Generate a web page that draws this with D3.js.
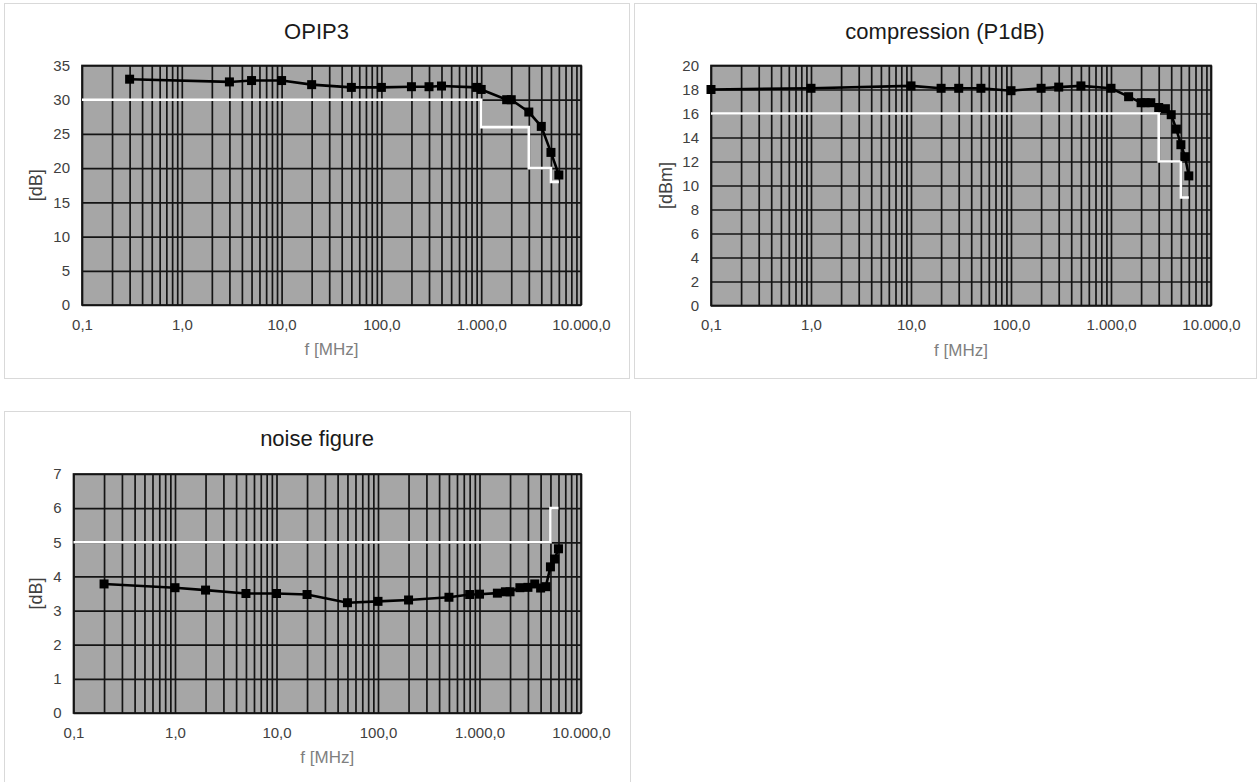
<!DOCTYPE html>
<html>
<head>
<meta charset="utf-8">
<script src="https://cdnjs.cloudflare.com/ajax/libs/d3/7.8.5/d3.min.js"></script>
<style>
  body { margin: 0; background: #fff; }
  svg { display: block; font-family: "Liberation Sans", Arial, sans-serif; }
</style>
</head>
<body>
<div id="chart"></div>
<script>

var opipFreq = [0.3, 3, 5, 10, 20, 50, 100, 200, 300, 400, 900, 1000, 1800, 2000, 3000, 4000, 5000, 6000];
var opipVal  = [33.0, 32.6, 32.8, 32.8, 32.2, 31.8, 31.8, 31.9, 31.9, 32.0, 31.8, 31.5, 30.0, 30.0, 28.2, 26.1, 22.3, 19.0];
var opipSpecFreq = [0.1, 1000, 1000, 3000, 3000, 5000, 5000, 6000];
var opipSpecVal  = [30, 30, 26, 26, 20, 20, 18, 18];

var compFreq = [0.1, 1, 10, 20, 30, 50, 100, 200, 300, 500, 1000, 1500, 2000, 2200, 2500, 3000, 3500, 4000, 4500, 5000, 5500, 6000];
var compVal  = [18.0, 18.1, 18.3, 18.1, 18.1, 18.1, 17.9, 18.1, 18.2, 18.3, 18.1, 17.4, 16.9, 16.9, 16.9, 16.5, 16.4, 15.9, 14.7, 13.4, 12.4, 10.8];
var compSpecFreq = [0.1, 3000, 3000, 5000, 5000, 6000];
var compSpecVal  = [16, 16, 12, 12, 9, 9];

var nfFreq = [0.2, 1, 2, 5, 10, 20, 50, 100, 200, 500, 800, 1000, 1500, 1800, 2000, 2500, 3000, 3500, 4000, 4500, 5000, 5500, 6000];
var nfVal  = [3.78, 3.67, 3.6, 3.5, 3.5, 3.47, 3.23, 3.27, 3.31, 3.39, 3.47, 3.48, 3.51, 3.55, 3.55, 3.67, 3.68, 3.78, 3.66, 3.70, 4.28, 4.51, 4.81];
var nfSpecFreq = [0.1, 5000, 5000, 6000];
var nfSpecVal  = [5, 5, 6, 6];

var xTickLabels = [0.1, 1, 10, 100, 1000, 10000];

var svgWidth = 1258;
var svgHeight = 782;

var svg = d3.select("#chart")
  .append("svg")
  .attr("width", svgWidth)
  .attr("height", svgHeight);

var de = d3.formatLocale({decimal: ",", thousands: ".", grouping: [3], currency: ["", "€"]});
var fmtX = de.format(",.1f");
var gridColor = "#141414";

function drawChart(c) {
  var g = svg.append("g");

  // panel frame
  g.append("rect")
    .attr("x", c.panel[0] + 0.5).attr("y", c.panel[1] + 0.5)
    .attr("width", c.panel[2]).attr("height", c.panel[3])
    .attr("fill", "#fff").attr("stroke", "#d9d9d9");

  var x = d3.scaleLog().domain([0.1, 10000]).range([c.left, c.right]);
  var y = d3.scaleLinear().domain([0, c.yMax]).range([c.bottom, c.top]);
  var w = c.right - c.left, h = c.bottom - c.top;

  g.append("rect")
    .attr("x", c.left).attr("y", c.top)
    .attr("width", w).attr("height", h)
    .attr("fill", "#a6a6a6");

  // vertical grid, every 1..9 of each decade
  g.append("g")
    .attr("transform", `translate(0, ${c.bottom})`)
    .call(d3.axisBottom(x).tickSize(-h).tickFormat(""))
    .call(a => a.select(".domain").remove())
    .selectAll("line").attr("stroke", gridColor).attr("stroke-width", 1.7);

  // horizontal grid
  var yTicks = d3.range(0, c.yMax + c.yStep / 2, c.yStep);
  g.append("g")
    .attr("transform", `translate(${c.left}, 0)`)
    .call(d3.axisLeft(y).tickValues(yTicks).tickFormat(d3.format("d")).tickSize(-w).tickPadding(12))
    .call(a => a.select(".domain").remove())
    .call(a => a.selectAll("line").attr("stroke", gridColor).attr("stroke-width", 1.7))
    .call(a => a.selectAll("text").attr("font-size", "15px").attr("fill", "#404040")
      .attr("font-family", "'Liberation Sans', Arial, sans-serif"));

  // x labels
  g.append("g")
    .attr("transform", `translate(0, ${c.bottom})`)
    .call(d3.axisBottom(x).tickValues(xTickLabels).tickSize(0).tickPadding(14).tickFormat(fmtX))
    .call(a => a.select(".domain").remove())
    .call(a => a.selectAll("text").attr("font-size", "15px").attr("fill", "#404040")
      .attr("font-family", "'Liberation Sans', Arial, sans-serif"));

  g.append("rect")
    .attr("x", c.left).attr("y", c.top)
    .attr("width", w).attr("height", h)
    .attr("fill", "none").attr("stroke", gridColor).attr("stroke-width", 1.7);

  var line = d3.line().x(d => x(d[0])).y(d => y(d[1]));

  // spec limit (white)
  g.append("path")
    .datum(d3.zip(c.specF, c.specV))
    .attr("d", line)
    .attr("fill", "none").attr("stroke", "#fff").attr("stroke-width", 2.6);

  var pts = d3.zip(c.freq, c.val);
  g.append("path")
    .datum(pts)
    .attr("d", line)
    .attr("fill", "none").attr("stroke", "#000").attr("stroke-width", 2.6);

  g.append("g").selectAll("rect")
    .data(pts)
    .enter()
    .append("rect")
    .attr("x", d => x(d[0]) - 4.5)
    .attr("y", d => y(d[1]) - 4.5)
    .attr("width", 9).attr("height", 9)
    .attr("fill", "#000");

  // titles
  g.append("text")
    .attr("x", c.panel[0] + c.panel[2] / 2).attr("y", c.titleY)
    .attr("text-anchor", "middle").attr("font-size", "22px").attr("fill", "#1a1a1a")
    .text(c.title);

  g.append("text")
    .attr("x", (c.left + c.right) / 2).attr("y", c.bottom + 50)
    .attr("text-anchor", "middle").attr("font-size", "17px").attr("fill", "#7f7f7f")
    .text("f [MHz]");

  g.append("text")
    .attr("transform", `translate(${c.yLabelX}, ${(c.top + c.bottom) / 2}) rotate(-90)`)
    .attr("text-anchor", "middle").attr("font-size", "18px").attr("fill", "#404040")
    .text(c.yLabel);
}

drawChart({
  title: "OPIP3", yLabel: "[dB]", yMax: 35, yStep: 5,
  panel: [4, 3, 625, 375], left: 82, right: 581, top: 65.5, bottom: 305,
  titleY: 39, yLabelX: 42,
  freq: opipFreq, val: opipVal, specF: opipSpecFreq, specV: opipSpecVal
});

drawChart({
  title: "compression (P1dB)", yLabel: "[dBm]", yMax: 20, yStep: 2,
  panel: [634, 3, 622, 375], left: 711, right: 1211, top: 65.5, bottom: 305.5,
  titleY: 39, yLabelX: 672,
  freq: compFreq, val: compVal, specF: compSpecFreq, specV: compSpecVal
});

drawChart({
  title: "noise figure", yLabel: "[dB]", yMax: 7, yStep: 1,
  panel: [4, 411, 626, 380], left: 73.5, right: 581, top: 474, bottom: 713,
  titleY: 446, yLabelX: 42,
  freq: nfFreq, val: nfVal, specF: nfSpecFreq, specV: nfSpecVal
});
</script>
</body>
</html>
